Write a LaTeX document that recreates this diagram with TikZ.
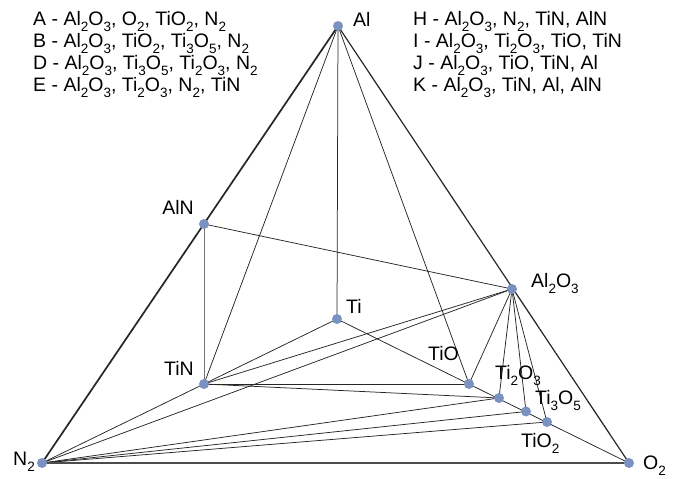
\documentclass[tikz,border=0pt]{standalone}
\usepackage{fontspec}
\setmainfont{Liberation Sans}
\newcommand{\sbs}[1]{\raisebox{-0.3em}{\fontsize{13.5}{13.5}\selectfont #1}}
\begin{document}
\begin{tikzpicture}[x=1pt,y=1pt,
  pt/.style={circle,fill=dotblue,inner sep=0pt,minimum size=10pt},
  thin/.style={line width=0.75pt,black!85},
  thick/.style={line width=1.7pt,black!85},
  lbl/.style={anchor=base west,inner sep=0pt,font=\fontsize{19.5}{22}\selectfont},
  leg/.style={anchor=base west,inner sep=0pt,font=\fontsize{19.5}{22}\selectfont}]
\definecolor{dotblue}{RGB}{122,146,192}
\useasboundingbox (0,0) rectangle (678,479);
\coordinate (Al) at (338,453);
\coordinate (N2) at (42,16);
\coordinate (O2) at (629,16);
\coordinate (AlN) at (204,255);
\coordinate (Ti) at (337,160);
\coordinate (Al2O3) at (512,190);
\coordinate (TiN) at (204,95);
\coordinate (TiO) at (469,95);
\coordinate (Ti2O3) at (499,81);
\coordinate (Ti3O5) at (526,67.5);
\coordinate (TiO2) at (547,57);
% thin lines
\draw[thin,black!55] (AlN) -- (TiN);
\draw[thin] (AlN) -- (Al2O3);
\draw[thin] (Al) -- (TiN);
\draw[thin] (Al) -- (Ti);
\draw[thin] (Al) -- (TiO);
\draw[thin] (TiN) -- (Ti);
\draw[thin] (Ti) -- (O2);
\draw[thin] (TiN) -- (TiO);
\draw[thin] (TiN) -- (Ti2O3);
\draw[thin] (TiN) -- (Al2O3);
\draw[thin] (N2) -- (TiN);
\draw[thin] (N2) -- (Al2O3);
\draw[thin] (N2) -- (Ti2O3);
\draw[thin] (N2) -- (Ti3O5);
\draw[thin] (N2) -- (TiO2);
\draw[thin] (Al2O3) -- (TiO);
\draw[thin] (Al2O3) -- (Ti2O3);
\draw[thin] (Al2O3) -- (Ti3O5);
\draw[thin] (Al2O3) -- (TiO2);
% outer triangle
\draw[thick] (Al) -- (N2);
\draw[thick,black!70] (N2) -- (O2);
\draw[line width=1.2pt,black!85] (Al) -- (O2);
% dots
\foreach \p in {Al,N2,O2,AlN,Ti,Al2O3,TiN,TiO,Ti2O3,Ti3O5,TiO2}
  \node[pt] (d\p) at (\p) {};
% labels
\node[lbl] (tAl) at (353,452) {Al};
\node[lbl,anchor=base east] (tAlN) at (194,264) {AlN};
\node[lbl] (tTi) at (346,165) {Ti};
\node[lbl,anchor=base east] (tTiN) at (194,103) {TiN};
\node[lbl] (tTiO) at (428,118) {TiO};
\node[lbl] (tAl2O3) at (531,191) {Al\sbs{2}O\sbs{3}};
\node[lbl] (tTi2O3) at (495,99) {Ti\sbs{2}O\sbs{3}};
\node[lbl] (tTi3O5) at (535,74) {Ti\sbs{3}O\sbs{5}};
\node[lbl] (tTiO2) at (521,31) {TiO\sbs{2}};
\node[lbl] (tN2) at (13,13) {N\sbs{2}};
\node[lbl] (tO2) at (643,9) {O\sbs{2}};
% legends
\node[leg] (lA) at (33,453) {A - Al\sbs{2}O\sbs{3}, O\sbs{2}, TiO\sbs{2}, N\sbs{2}};
\node[leg] (lB) at (33,431) {B - Al\sbs{2}O\sbs{3}, TiO\sbs{2}, Ti\sbs{3}O\sbs{5}, N\sbs{2}};
\node[leg] (lD) at (33,409) {D - Al\sbs{2}O\sbs{3}, Ti\sbs{3}O\sbs{5}, Ti\sbs{2}O\sbs{3}, N\sbs{2}};
\node[leg] (lE) at (33,387) {E - Al\sbs{2}O\sbs{3}, Ti\sbs{2}O\sbs{3}, N\sbs{2}, TiN};
\node[leg] (lH) at (413,453) {H - Al\sbs{2}O\sbs{3}, N\sbs{2}, TiN, AlN};
\node[leg] (lI) at (413,431) {I - Al\sbs{2}O\sbs{3}, Ti\sbs{2}O\sbs{3}, TiO, TiN};
\node[leg] (lJ) at (413,409) {J - Al\sbs{2}O\sbs{3}, TiO, TiN, Al};
\node[leg] (lK) at (413,387) {K - Al\sbs{2}O\sbs{3}, TiN, Al, AlN};
\end{tikzpicture}
\end{document}
